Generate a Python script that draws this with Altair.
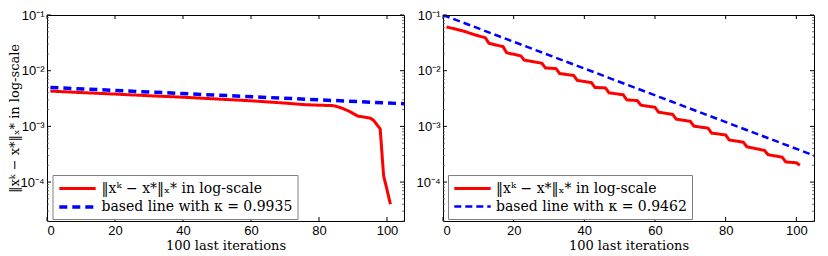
import altair as alt
import pandas as pd

# ---------------- data ----------------
left_red_x = [1, 10, 20, 30, 40, 50, 60, 70, 75, 80, 84, 85, 87, 89, 91.5, 93, 95, 96, 98, 99, 100, 101]
left_red_y = [4.3e-3, 4.05e-3, 3.8e-3, 3.55e-3, 3.34e-3, 3.1e-3, 2.88e-3, 2.62e-3, 2.47e-3, 2.4e-3,
              2.36e-3, 2.3e-3, 2.1e-3, 1.85e-3, 1.52e-3, 1.48e-3, 1.41e-3, 1.3e-3, 9.0e-4, 1.3e-4, 7.3e-5, 4.0e-5]
left_blue_x = [1, 105]
left_blue_y = [5.0e-3, 2.55e-3]

right_red_x = [1, 4, 6, 9, 12, 13, 17, 18, 22, 23, 28, 29, 32, 33, 37, 38, 42, 43, 46, 47, 51, 52,
               55, 56, 60, 61, 65, 66, 70, 71, 75, 76, 80, 81, 85, 86, 91, 92, 96, 97, 100, 101]
right_red_y = [0.061, 0.055, 0.051, 0.044, 0.039, 0.031, 0.027, 0.021, 0.0185, 0.0155, 0.0136, 0.0112,
               0.0109, 0.0089, 0.0082, 0.0067, 0.0061, 0.0050, 0.0049, 0.0040, 0.0037, 0.0030,
               0.0029, 0.0024, 0.0022, 0.0018, 0.00164, 0.00135, 0.00123, 0.00101, 0.00093, 0.00076,
               0.00070, 0.00057, 0.00052, 0.00043, 0.00037, 0.00031, 0.00028, 0.00023, 0.000222, 0.000200]
right_blue_x = [0, 105]
right_blue_y = [1.0e-1, 3.0e-4]

kappas = ["0.9935", "0.9462"]
x_ticks = [0, 20, 40, 60, 80, 100]
y_decades = [1e-4, 1e-3, 1e-2, 1e-1]
y_minor = [2e-5, 3e-5, 4e-5, 5e-5, 6e-5, 7e-5, 8e-5, 9e-5,
           2e-4, 3e-4, 4e-4, 5e-4, 6e-4, 7e-4, 8e-4, 9e-4,
           2e-3, 3e-3, 4e-3, 5e-3, 6e-3, 7e-3, 8e-3, 9e-3,
           2e-2, 3e-2, 4e-2, 5e-2, 6e-2, 7e-2, 8e-2, 9e-2]

lab_err = "‖xᵏ − x*‖ₓ* in log-scale"
H = 206

SERIF = "DejaVu Serif"
SANS = "Liberation Sans"

y_label_expr = ("'10' + (datum.value > 0.05 ? '⁻¹' : datum.value > 0.005 ? '⁻²' : "
                "datum.value > 0.0005 ? '⁻³' : '⁻⁴')")


def panel(red_x, red_y, blue_x, blue_y, kappa, width, show_ytitle, blue_width, blue_dash, legend_x):
    lab_b = "based line with κ = " + kappa
    df = pd.DataFrame({
        "it": red_x + blue_x,
        "val": red_y + blue_y,
        "series": [lab_err] * len(red_x) + [lab_b] * len(blue_x),
    })
    xs = alt.Scale(domain=[0, 105], nice=False, zero=False)
    ys = alt.Scale(type="log", domain=[2e-5, 1e-1], nice=False)
    dom = [lab_err, lab_b]
    leg = alt.Legend(title=None, orient="none", legendX=legend_x, legendY=160,
                     strokeColor="#808080", fillColor="white", padding=5,
                     symbolType="M-2.6,0H2.6", symbolSize=196, symbolStrokeWidth=3,
                     symbolOffset=11, labelOffset=15,
                     labelFont=SERIF, labelFontSize=14, labelLimit=500,
                     labelColor="black", rowPadding=2)
    lines = alt.Chart(df).mark_line(clip=True).encode(
        x=alt.X("it:Q", scale=xs,
                axis=alt.Axis(values=x_ticks, title="100 last iterations", format="d")),
        y=alt.Y("val:Q", scale=ys,
                axis=alt.Axis(values=y_decades, labelExpr=y_label_expr,
                              title=lab_err if show_ytitle else "")),
        color=alt.Color("series:N", scale=alt.Scale(domain=dom, range=["#ff0000", "#0000ff"]),
                        legend=leg, sort=dom),
        strokeDash=alt.StrokeDash("series:N", scale=alt.Scale(domain=dom, range=[[1, 0], blue_dash]),
                                  legend=leg, sort=dom),
        strokeWidth=alt.StrokeWidth("series:N", scale=alt.Scale(domain=dom, range=[3, blue_width]),
                                    legend=None),
    )
    xt_df = pd.DataFrame({"t": x_ticks})
    yd_df = pd.DataFrame({"t": y_decades})
    ym_df = pd.DataFrame({"t": y_minor})
    rule = dict(color="black", strokeWidth=1)
    xb = alt.Chart(xt_df).mark_rule(**rule).encode(
        x=alt.X("t:Q", scale=xs, axis=None), y=alt.value(H), y2=alt.value(H - 4))
    xtp = alt.Chart(xt_df).mark_rule(**rule).encode(
        x=alt.X("t:Q", scale=xs, axis=None), y=alt.value(0), y2=alt.value(4))
    yl = alt.Chart(yd_df).mark_rule(**rule).encode(
        y=alt.Y("t:Q", scale=ys, axis=None), x=alt.value(0), x2=alt.value(4))
    yr = alt.Chart(yd_df).mark_rule(**rule).encode(
        y=alt.Y("t:Q", scale=ys, axis=None), x=alt.value(width), x2=alt.value(width - 4))
    yml = alt.Chart(ym_df).mark_rule(color="#555555", strokeWidth=0.8).encode(
        y=alt.Y("t:Q", scale=ys, axis=None), x=alt.value(0), x2=alt.value(2))
    ymr = alt.Chart(ym_df).mark_rule(color="#555555", strokeWidth=0.8).encode(
        y=alt.Y("t:Q", scale=ys, axis=None), x=alt.value(width), x2=alt.value(width - 2))
    return alt.layer(lines, xb, xtp, yl, yr, yml, ymr).resolve_axis(
        x="independent", y="independent").properties(width=width, height=H)


left = panel(left_red_x, left_red_y, left_blue_x, left_blue_y, kappas[0], 357, True, 3.5, [8, 5], 5.5)
right = panel(right_red_x, right_red_y, right_blue_x, right_blue_y, kappas[1], 371, False, 2.5, [7, 4], 5)

chart = alt.hconcat(left, right, spacing=10).resolve_scale(
    color="independent", strokeDash="independent", strokeWidth="independent",
    x="independent", y="independent"
).resolve_legend(color="independent", strokeDash="independent").properties(
    padding={"left": 0, "top": 0, "right": 2, "bottom": 0}, background="white"
).configure_axis(
    labelFont=SANS, labelFontSize=13, labelColor="black", labelPadding=3,
    titleFont=SERIF, titleFontSize=13, titleFontWeight="normal", titleColor="black",
    domain=False, ticks=False, grid=False
).configure_axisX(titlePadding=2).configure_axisY(titlePadding=-2).configure_view(
    stroke="black", strokeWidth=1
)

chart.save("out.html", embed_options={"renderer": "svg", "actions": False})
